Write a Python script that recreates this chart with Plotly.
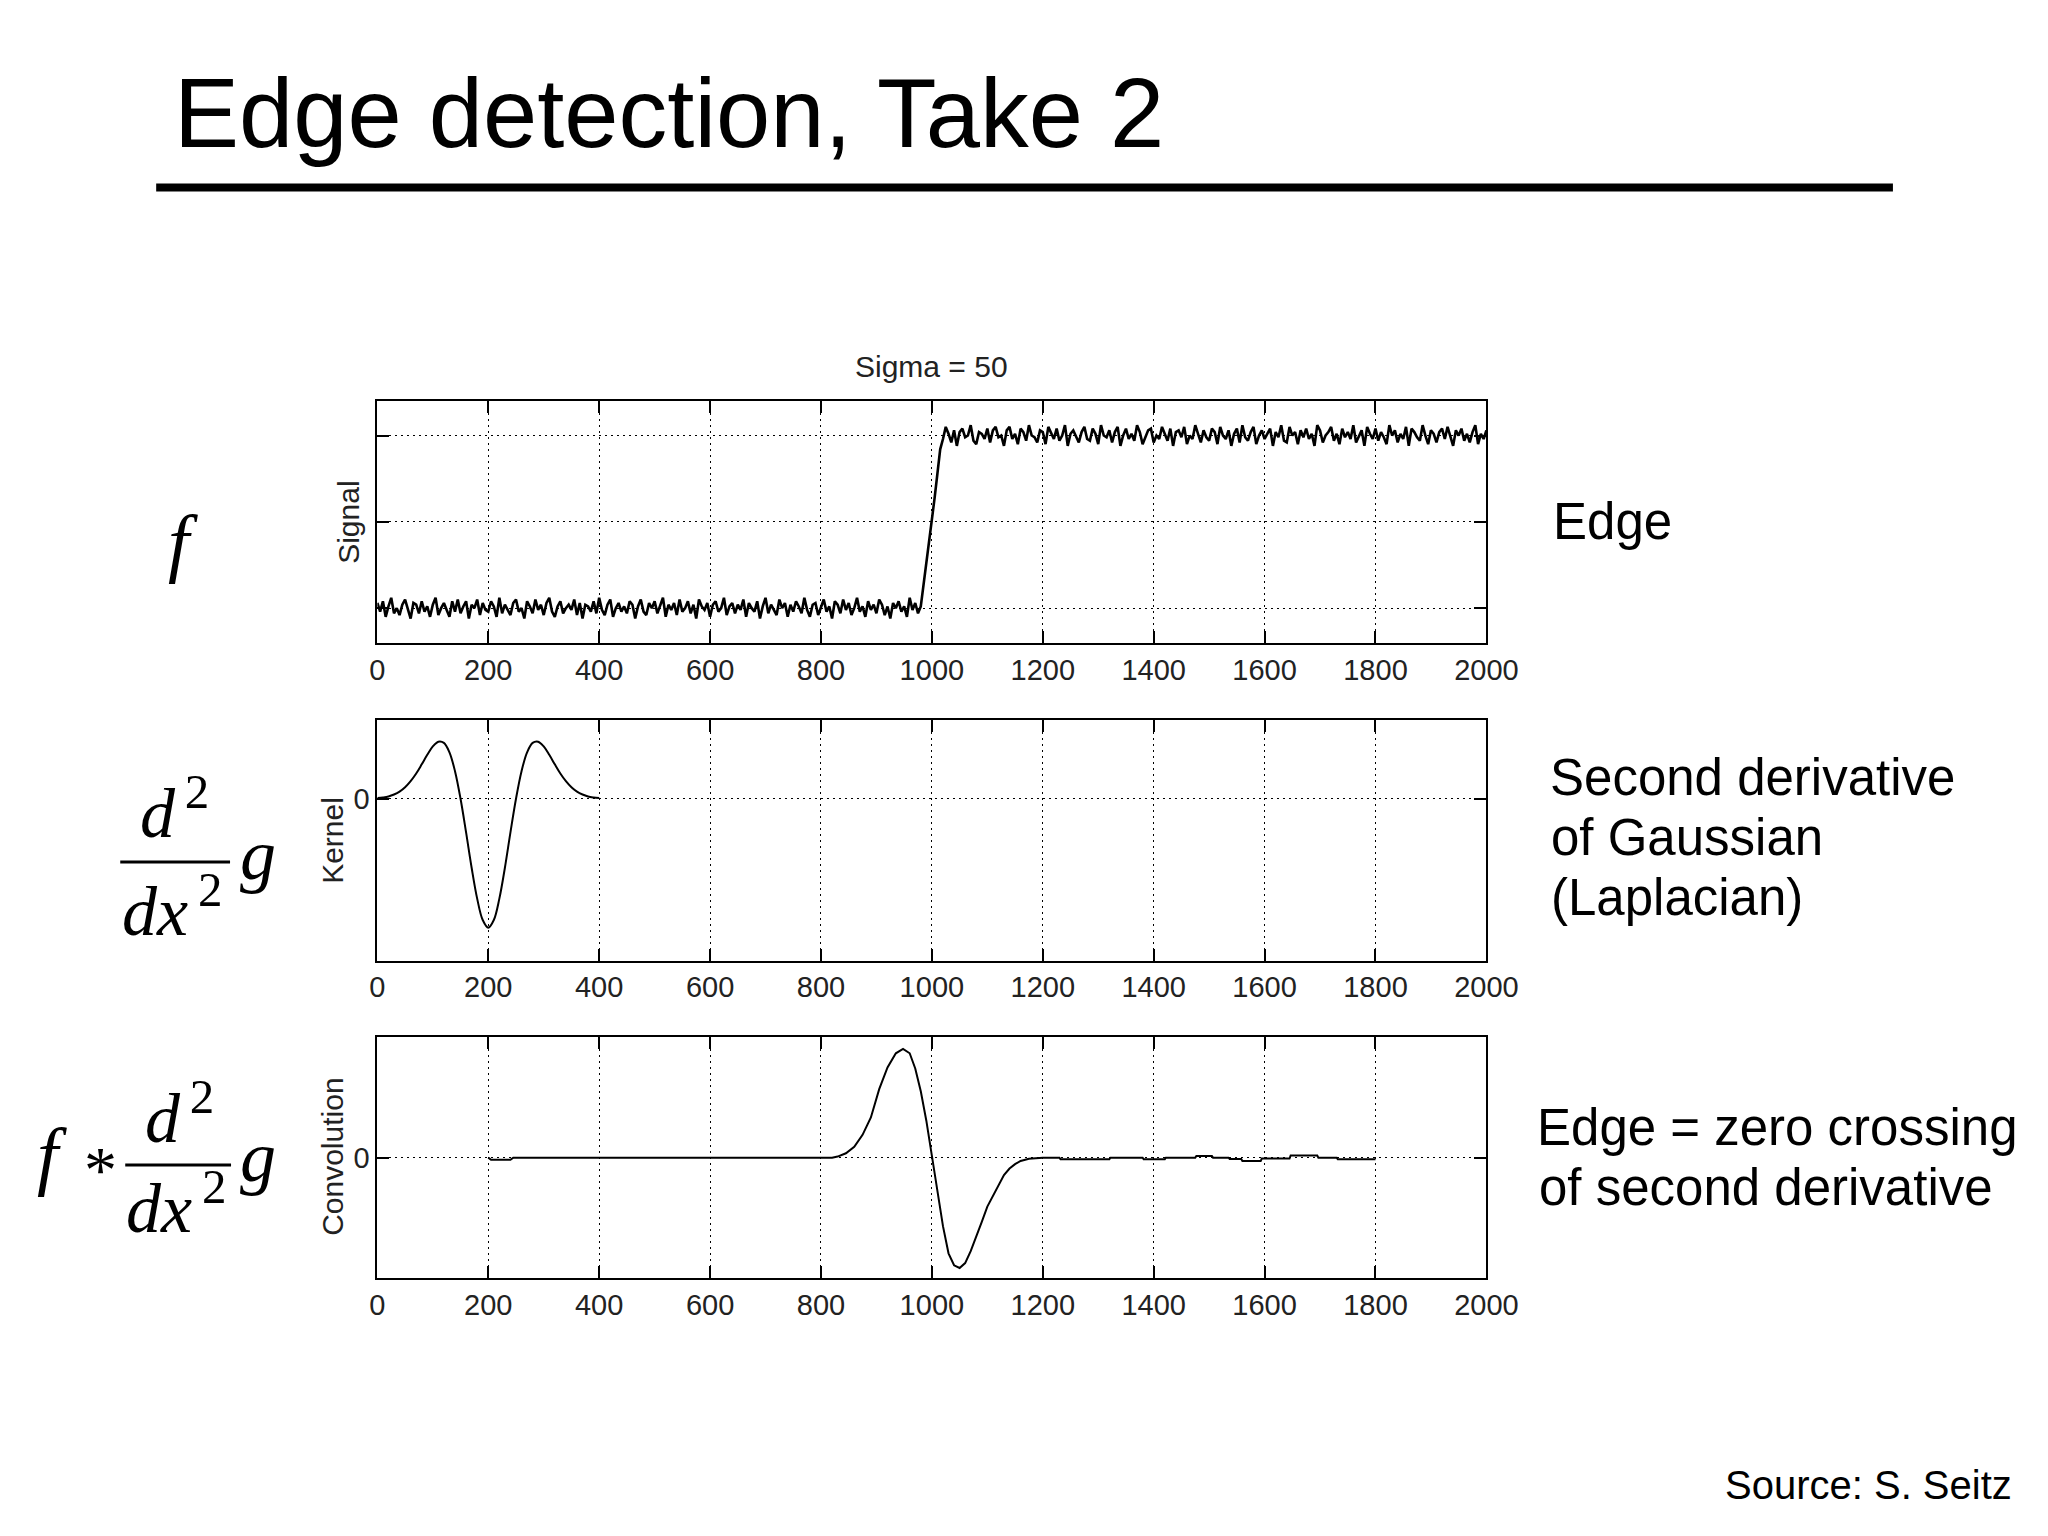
import plotly.graph_objects as go

W, H = 2080, 1520
OFF = 8          # page body margin in the browser
# measured horizontal mapping of the capture: shown_x = XC0 + XK * page_x
XC0, XK = 5.7, 0.9826

# ---------------- data ----------------
x_ticks = [0, 200, 400, 600, 800, 1000, 1200, 1400, 1600, 1800, 2000]
x_tick_labels = ["0", "200", "400", "600", "800", "1000", "1200", "1400", "1600", "1800", "2000"]

# noisy step signal (noise read as hundredths around the two levels)
low_level = 0.0
high_level = 1.0
low_noise = [
    3, -2, 4, -5, 1, 6, -3, 0, -4, 2,
    5, -1, -6, 3, 2, -3, 4, -2, 1, -5,
    2, 6, -4, 0, 3, -1, -5, 4, -2, 5,
    -3, 1, 4, -6, 2, 0, 5, -4, 3, -1,
    -2, 4, 1, -5, 6, -3, 2, -1, -4, 3,
    5, -2, 0, -6, 4, 1, -3, 5, -1, 2,
    -4, 3, 6, -2, -5, 1, 4, -3, 0, 2,
    -1, 5, -4, 3, -6, 2, 1, -2, 4, -3,
    6, -1, -4, 2, 5, -5, 0, 3, -2, 1,
    -3, 4, 2, -6, 1, 5, -2, -4, 3, 0,
    4, -3, 1, 6, -5, 2, -1, 3, -4, 5,
    -2, 0, 4, -3, 2, -6, 5, 1, -1, 3,
    -5, 2, 4, -2, 0, 6, -4, 1, 3, -3,
    2, -1, 5, -5, 3, 0, -2, 4, -6, 1,
    6, -3, 2, -1, -4, 5, 0, 3, -5, 2,
    -2, 4, 1, -3, 6, -1, -5, 2, 3, -4,
    0, 5, -2, 1, -6, 4, 2, -3, 5, -1,
    3, -4, 0, 6, -2, 1, -5, 4, -1, 2,
    -3, 5, 2, -4, 1, -6, 3, 0, 4, -2,
    1, -5, 6, -1, 3, -3,
]
high_noise = [
    -2, 5, 1, -4, 3, -6, 2, 4, -1, 0,
    6, -3, -5, 2, 1, -2, 4, -4, 3, 5,
    -1, 0, -6, 3, 5, -2, 1, -5, 4, 2,
    -3, 6, 0, -1, -4, 3, 2, -5, 5, 1,
    -2, 4, -3, 0, 6, -6, 1, 3, -1, -4,
    2, 5, -2, -3, 4, 1, -5, 6, 0, -1,
    3, -4, 2, 5, -6, 0, 4, -2, 1, -3,
    6, 2, -5, -1, 3, 4, -4, 0, -2, 5,
    1, -3, 4, -6, 2, 3, -1, 5, -5, 0,
    -2, 6, 1, -4, 3, -1, -3, 4, 2, -5,
    5, 0, -2, 3, -6, 1, 4, -4, 6, -1,
    -3, 2, 5, -5, 0, 3, -2, 1, 4, -6,
    2, -1, 6, -3, -4, 5, 0, 2, -5, 3,
    -1, 4, -2, 1, -6, 6, 3, -4, 0, 2,
    5, -3, 1, -5, 4, -1, 2, -2, 6, -4,
    0, 3, -6, 5, 1, -2, 4, -3, 2, -1,
    -5, 6, 0, 3, -4, 1, -2, 5, -6, 4,
    2, -1, -3, 6, 0, -5, 3, 1, -4, 2,
    4, -2, 5, -1, -6, 3, 0, 4, -3, 1,
    -4, 2, 6, -5, 1, -2, 3,
]
low_x = list(range(0, 980, 5))          # 196 samples
high_x = list(range(1020, 2001, 5))     # 197 samples
ramp_x = [980, 985, 990, 995, 1000, 1005, 1010, 1015]
ramp_y = [0.01, 0.13, 0.26, 0.39, 0.51, 0.64, 0.78, 0.92]

# second derivative of Gaussian kernel
kernel_x = list(range(0, 401, 10))
kernel_y = [0.005, 0.010, 0.018, 0.033, 0.055, 0.089, 0.136, 0.196, 0.267, 0.341,
            0.406, 0.443, 0.434, 0.360, 0.214, 0.0, -0.261, -0.535, -0.775, -0.941,
            -1.0, -0.941, -0.775, -0.535, -0.261, 0.0, 0.214, 0.360, 0.434, 0.443,
            0.406, 0.341, 0.267, 0.196, 0.136, 0.089, 0.055, 0.033, 0.018, 0.010, 0.005]

# convolution result (bottom panel)
conv_x = [200, 205, 240, 245, 800, 820, 830, 845, 860, 875, 890, 905, 920, 935, 948,
          960, 970, 980, 990, 1000, 1010, 1020, 1030, 1040, 1050, 1060, 1070, 1080,
          1090, 1100, 1110, 1120, 1130, 1140, 1150, 1160, 1175, 1200, 1230, 1232,
          1320, 1322, 1380, 1382, 1420, 1422, 1475, 1477, 1505, 1507, 1535, 1537,
          1558, 1560, 1593, 1595, 1645, 1647, 1695, 1697, 1730, 1732, 1800]
conv_y = [0.0, -0.02, -0.02, 0.0, 0.0, 0.0, 0.01, 0.04, 0.10, 0.21, 0.37, 0.63, 0.83,
          0.96, 1.0, 0.96, 0.82, 0.61, 0.34, 0.02, -0.30, -0.63, -0.88, -0.99, -1.015,
          -0.97, -0.86, -0.73, -0.59, -0.45, -0.35, -0.25, -0.16, -0.10, -0.06, -0.03,
          -0.01, 0.0, 0.0, -0.015, -0.015, 0.0, 0.0, -0.015, -0.015, 0.0, 0.0, 0.015,
          0.015, 0.0, 0.0, -0.012, -0.012, -0.03, -0.03, -0.008, -0.008, 0.02, 0.02,
          0.0, 0.0, -0.015, -0.015]

signal_x = low_x + ramp_x + high_x
signal_y = ([low_level + n / 100 for n in low_noise[:len(low_x)]] + ramp_y +
            [high_level + n / 100 for n in high_noise[:len(high_x)]])

# ---------------- helpers (target picture pixel -> paper fraction) ----------------
def px(x):
    page_x = (x - XC0) / XK
    return (page_x - OFF) / W


def py(y):
    return 1 - (y - OFF) / H


SANS = "Liberation Sans, Arial, Helvetica, sans-serif"
SERIF = "Liberation Serif, Times New Roman, serif"


def text(t, x, baseline, size, family=SANS, xanchor="left", desc=0.212, color="black"):
    return dict(text=t, x=px(x), y=py(baseline + desc * size), xref="paper", yref="paper",
                xanchor=xanchor, yanchor="bottom", showarrow=False,
                font=dict(family=family, size=size, color=color), borderpad=0, borderwidth=0)


def rot_text(t, xc, yc, size):
    return dict(text=t, x=px(xc), y=py(yc), xref="paper", yref="paper",
                xanchor="center", yanchor="middle", showarrow=False, textangle=-90,
                font=dict(family=SANS, size=size, color="#222"), borderpad=0, borderwidth=0)


# ---------------- figure ----------------
fig = go.Figure()
fig.add_trace(go.Scatter(x=signal_x, y=signal_y, mode="lines",
                         line=dict(color="black", width=2.6), xaxis="x", yaxis="y"))
fig.add_trace(go.Scatter(x=kernel_x, y=kernel_y, mode="lines", line_shape="spline",
                         line=dict(color="black", width=2.0), xaxis="x2", yaxis="y2"))
fig.add_trace(go.Scatter(x=conv_x, y=conv_y, mode="lines",
                         line=dict(color="black", width=2.0), xaxis="x3", yaxis="y3"))

xdom = [px(375.6), px(1486.7)]
tickfont = dict(family=SANS, size=29, color="#222")
common = dict(showline=True, linecolor="black", linewidth=2, mirror="ticks",
              ticks="inside", ticklen=12, tickwidth=1.5, tickcolor="black",
              showgrid=True, gridcolor="black", gridwidth=1.3, griddash="2px,4px",
              zeroline=False, tickfont=tickfont, fixedrange=True)

xax = dict(common, range=[0, 2000], tickvals=x_ticks, ticktext=x_tick_labels, domain=xdom)

fig.update_layout(
    width=W, height=H, autosize=False, margin=dict(l=0, r=0, t=0, b=0),
    paper_bgcolor="white", plot_bgcolor="white", showlegend=False,
    xaxis=dict(xax, anchor="y"),
    xaxis2=dict(xax, anchor="y2"),
    xaxis3=dict(xax, anchor="y3"),
    yaxis=dict(common, range=[-0.2, 1.2], tickvals=[0, 0.5, 1], ticktext=["", "", ""],
               domain=[py(642.7), py(401)], anchor="x"),
    yaxis2=dict(common, range=[-1.255, 0.615], tickvals=[0], ticktext=["0"],
                domain=[py(960.5), py(719.5)], anchor="x2"),
    yaxis3=dict(common, range=[-1.107, 1.107], tickvals=[0], ticktext=["0"],
                domain=[py(1278), py(1037.3)], anchor="x3"),
)

shapes = [
    dict(type="line", xref="paper", yref="paper", x0=px(154), x1=px(1894), y0=py(187.5), y1=py(187.5),
         line=dict(color="black", width=8)),
    dict(type="line", xref="paper", yref="paper", x0=px(118), x1=px(228), y0=py(862), y1=py(862),
         line=dict(color="black", width=3)),
    dict(type="line", xref="paper", yref="paper", x0=px(123), x1=px(229), y0=py(1165), y1=py(1165),
         line=dict(color="black", width=3)),
]

ann = [
    text("Edge detection, Take 2", 172, 147, 97.5),
    dict(text="Sigma = 50", x=px(931), y=py(377 + 0.212 * 30), xref="paper", yref="paper",
         xanchor="center", yanchor="bottom", showarrow=False,
         font=dict(family=SANS, size=30, color="#222"), borderpad=0, borderwidth=0),
    rot_text("Signal", 346, 522, 30),
    rot_text("Kernel", 330, 840, 30),
    rot_text("Convolution", 330, 1157, 30),
    # right-hand descriptions
    text("Edge", 1553, 539, 51),
    text("Second derivative", 1550, 795, 51),
    text("of Gaussian", 1551, 855, 51),
    text("(Laplacian)", 1551, 915, 51),
    text("Edge = zero crossing", 1537, 1145, 51),
    text("of second derivative", 1539, 1205, 51),
    text("Source: S. Seitz", 2013, 1499, 40, xanchor="right"),
    # left-hand math
    text("<i>f</i>", 181, 568, 76, family=SERIF, xanchor="center", desc=0.216),
    text("<i>d</i><sup>\u20092</sup>", 172, 837, 70, family=SERIF, xanchor="center", desc=0.216),
    text("<i>dx</i><sup>\u20092</sup>", 170, 935, 70, family=SERIF, xanchor="center", desc=0.216),
    text("<i>g</i>", 238, 879, 72, family=SERIF, desc=0.216),
    text("<i>f</i>", 50, 1181, 76, family=SERIF, xanchor="center", desc=0.216),
    text("*", 98, 1192, 66, family=SERIF, xanchor="center", desc=0.216),
    text("<i>d</i><sup>\u20092</sup>", 177, 1142, 70, family=SERIF, xanchor="center", desc=0.216),
    text("<i>dx</i><sup>\u20092</sup>", 174, 1232, 70, family=SERIF, xanchor="center", desc=0.216),
    text("<i>g</i>", 238, 1181, 72, family=SERIF, desc=0.216),
]

fig.update_layout(shapes=shapes, annotations=ann)
fig.write_html("out.html", config={"responsive": False})
